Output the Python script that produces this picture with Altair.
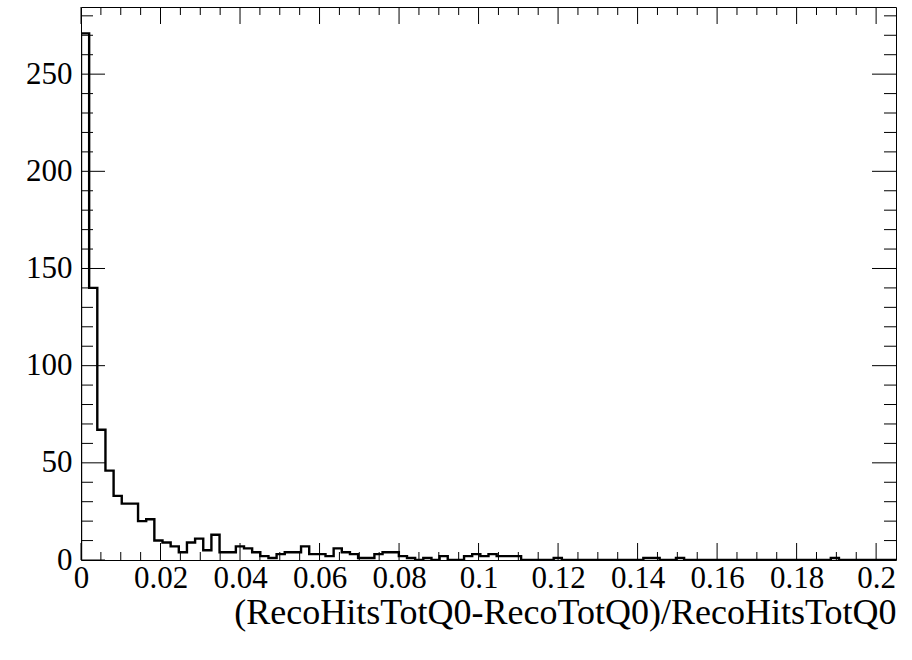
import altair as alt
import pandas as pd

# ---- data ----
x_min = 0.0
x_max = 0.205
n_bins = 100
counts = [271, 140, 67, 46, 33, 29, 29, 20, 21, 10,
          9, 7, 4, 9, 11, 5, 13, 4, 4, 7,
          6, 4, 2, 1, 3, 4, 4, 7, 3, 3,
          2, 6, 4, 3, 1, 1, 3, 4, 4, 2,
          1, 0, 1, 0, 2, 0, 0, 2, 3, 2,
          3, 2, 2, 2, 0, 0, 0, 0, 1, 0,
          0, 0, 0, 0, 0, 0, 0, 0, 0, 1,
          1, 0, 0, 1, 0, 0, 0, 0, 0, 0,
          0, 0, 0, 0, 0, 0, 0, 0, 0, 0,
          0, 0, 1, 0, 0, 0, 0, 0, 0, 0]
y_max = 284.55

x_major = [0.0, 0.02, 0.04, 0.06, 0.08, 0.1, 0.12, 0.14, 0.16, 0.18, 0.2]
x_minor = [0.005, 0.01, 0.015, 0.025, 0.03, 0.035, 0.045, 0.05, 0.055,
           0.065, 0.07, 0.075, 0.085, 0.09, 0.095, 0.105, 0.11, 0.115,
           0.125, 0.13, 0.135, 0.145, 0.15, 0.155, 0.165, 0.17, 0.175,
           0.185, 0.19, 0.195]
y_major = [0, 50, 100, 150, 200, 250]
y_minor = [10, 20, 30, 40, 60, 70, 80, 90, 110, 120, 130, 140, 160, 170,
           180, 190, 210, 220, 230, 240, 260, 270, 280]

x_title = "(RecoHitsTotQ0-RecoTotQ0)/RecoHitsTotQ0"

W, H = 815, 553
FONT = "Liberation Serif"

# ---- build the step outline from the bin counts ----
bw = (x_max - x_min) / n_bins
rows = [{"x": x_min, "y": 0, "o": 0}]
for i, c in enumerate(counts):
    lo = x_min + i * bw
    hi = lo + bw
    rows.append({"x": lo, "y": c, "o": len(rows)})
    rows.append({"x": hi, "y": c, "o": len(rows)})
rows.append({"x": x_max, "y": 0, "o": len(rows)})
hist_df = pd.DataFrame(rows)

xs = alt.Scale(domain=[x_min, x_max], nice=False, zero=False)
ys = alt.Scale(domain=[0, y_max], nice=False, zero=False)

hist = alt.Chart(hist_df).mark_line(
    color="black", strokeWidth=2.4, interpolate="linear", clip=True
).encode(
    x=alt.X("x:Q", scale=xs,
            axis=alt.Axis(values=x_major, format=".2~f", ticks=False,
                          domain=False, grid=False, labelFlush=False,
                          labelFont=FONT, labelFontSize=31, labelColor="black",
                          labelPadding=3, labelOverlap=False,
                          title=x_title, titleFont=FONT, titleFontSize=36,
                          titleFontWeight="normal", titleColor="black",
                          titleAnchor="end", titlePadding=2)),
    y=alt.Y("y:Q", scale=ys,
            axis=alt.Axis(values=y_major, ticks=False, domain=False,
                          grid=False, labelFont=FONT, labelFontSize=31,
                          labelColor="black", labelPadding=9, title=None,
                          labelOverlap=False)),
    order="o:Q",
)

xmaj_df = pd.DataFrame({"v": x_major})
xmin_df = pd.DataFrame({"v": x_minor})
ymaj_df = pd.DataFrame({"v": y_major})
ymin_df = pd.DataFrame({"v": y_minor})


def xticks(df, length):
    b = alt.Chart(df).mark_rule(color="black", strokeWidth=1).encode(
        x=alt.X("v:Q", scale=xs), y=alt.value(H), y2=alt.value(H - length))
    t = alt.Chart(df).mark_rule(color="black", strokeWidth=1).encode(
        x=alt.X("v:Q", scale=xs), y=alt.value(0), y2=alt.value(length))
    return b + t


def yticks(df, length):
    l = alt.Chart(df).mark_rule(color="black", strokeWidth=1).encode(
        y=alt.Y("v:Q", scale=ys), x=alt.value(0), x2=alt.value(length))
    r = alt.Chart(df).mark_rule(color="black", strokeWidth=1).encode(
        y=alt.Y("v:Q", scale=ys), x=alt.value(W), x2=alt.value(W - length))
    return l + r


chart = alt.layer(
    hist,
    xticks(xmaj_df, 17), xticks(xmin_df, 8),
    yticks(ymaj_df, 24), yticks(ymin_df, 12),
).properties(
    width=W, height=H,
    autosize=alt.AutoSizeParams(type="none"),
    padding={"left": 81, "top": 7, "right": 16, "bottom": 100},
    background="white",
).configure_view(
    stroke="black", strokeWidth=1
)

chart.save("out.html", embed_options={"renderer": "svg", "actions": False})
